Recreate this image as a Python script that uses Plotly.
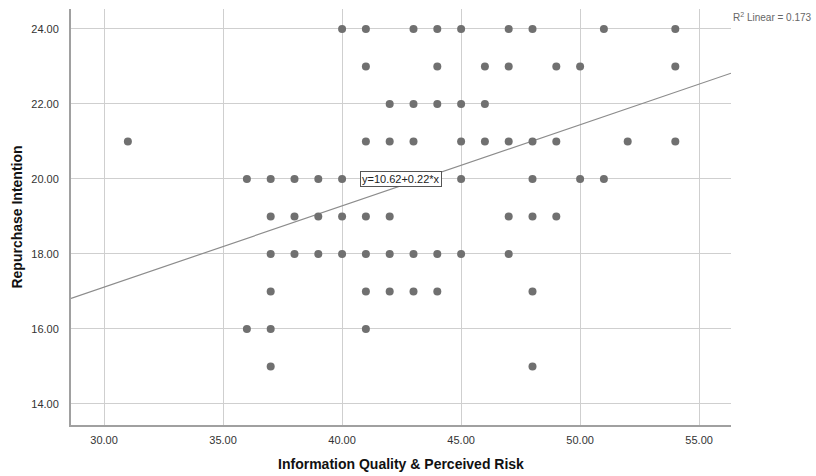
import plotly.graph_objects as go

# Data (x = Information Quality & Perceived Risk, y = Repurchase Intention)
rows_y = [24, 23, 22, 21, 20, 19, 18, 17, 16, 15]
rows_x = [
    [40, 41, 43, 44, 45, 47, 48, 51, 54],
    [41, 44, 46, 47, 49, 50, 54],
    [42, 43, 44, 45, 46],
    [31, 41, 42, 43, 45, 46, 47, 48, 49, 52, 54],
    [36, 37, 38, 39, 40, 45, 48, 50, 51],
    [37, 38, 39, 40, 41, 42, 47, 48, 49],
    [37, 38, 39, 40, 41, 42, 43, 44, 45, 47],
    [37, 41, 42, 43, 44, 48],
    [36, 37, 41],
    [37, 48],
]
intercept = 10.62
slope = 0.2165          # unrounded slope (label shows 0.22)
equation_label = "y=10.62+0.22*x"
r2_label = "R<sup>2</sup> Linear = 0.173"

x_range = [28.61, 56.34]
y_range = [13.44, 24.53]
x_ticks = [30, 35, 40, 45, 50, 55]
y_ticks = [14, 16, 18, 20, 22, 24]

xs, ys = [], []
for yv, xl in zip(rows_y, rows_x):
    for xv in xl:
        xs.append(xv)
        ys.append(yv)

fit_x = x_range
fit_y = [intercept + slope * v for v in fit_x]

fig = go.Figure()
fig.add_trace(go.Scatter(x=fit_x, y=fit_y, mode="lines",
                         line=dict(color="#8c8c8c", width=1.2), hoverinfo="skip"))
fig.add_trace(go.Scatter(x=xs, y=ys, mode="markers",
                         marker=dict(color="#707070", size=8, line=dict(width=0))))

fig.add_annotation(x=40.75, y=20.0, xref="x", yref="y", xanchor="left", yanchor="middle",
                   text=equation_label, showarrow=False,
                   font=dict(family="Liberation Sans, Arial", size=11, color="#222"),
                   bgcolor="white", bordercolor="#555", borderwidth=1, borderpad=1)
fig.add_annotation(x=1.0, y=1.0, xref="paper", yref="paper", xanchor="left", yanchor="top",
                   text=r2_label, showarrow=False,
                   font=dict(family="Liberation Sans, Arial", size=10, color="#666"))

axis_font = dict(family="Liberation Sans, Arial", size=11, color="#333")
fig.update_layout(
    width=816, height=476,
    margin=dict(l=71, r=85, t=9, b=51, autoexpand=False),
    plot_bgcolor="white", paper_bgcolor="white",
    showlegend=False,
    xaxis=dict(range=x_range, tickvals=x_ticks, ticktext=[f"{v:.2f}" for v in x_ticks],
               showgrid=True, gridcolor="#cfcfcf", gridwidth=1, zeroline=False,
               showline=True, linecolor="#a0a0a0", linewidth=2, automargin=False,
               tickfont=axis_font, ticks="", ticklabelstandoff=4,
               title=dict(text="<b>Information Quality & Perceived Risk</b>",
                          font=dict(family="Liberation Sans, Arial", size=14, color="#111"),
                          standoff=14)),
    yaxis=dict(range=y_range, tickvals=y_ticks, ticktext=[f"{v:.2f}" for v in y_ticks],
               showgrid=True, gridcolor="#cfcfcf", gridwidth=1, zeroline=False,
               showline=True, linecolor="#a0a0a0", linewidth=2, automargin=False,
               tickfont=axis_font, ticks="", ticklabelstandoff=8,
               title=dict(text="<b>Repurchase Intention</b>",
                          font=dict(family="Liberation Sans, Arial", size=14, color="#111"),
                          standoff=5)),
)

fig.write_html("out.html", config={"displayModeBar": False},
               post_script="document.body.style.margin='0';document.body.style.overflow='hidden';")
